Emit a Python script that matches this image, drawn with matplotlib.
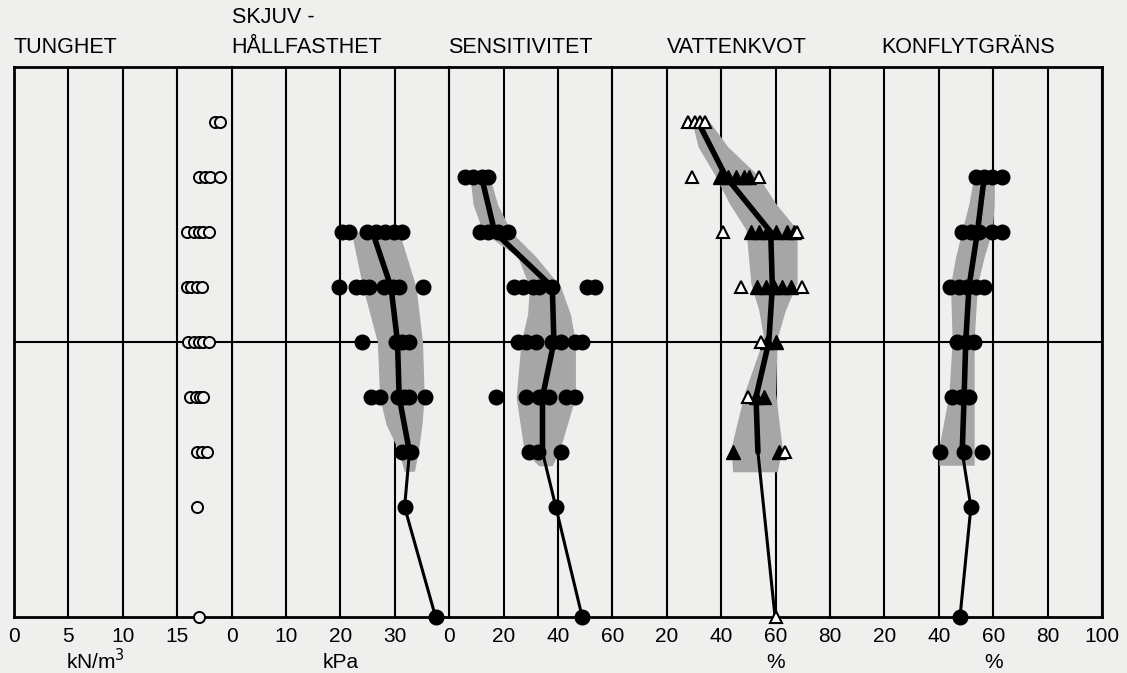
import matplotlib
matplotlib.use("Agg")
import matplotlib.pyplot as plt

plt.rcParams['font.family'] = ['Liberation Sans', 'DejaVu Sans']

# djup (m) och matvarden per panel
tung_levels = [1, 2, 3, 4, 5, 6, 7, 8, 10]
tung_pts = [[18.5, 18.9], [17.0, 17.6, 18.0, 18.9], [15.9, 16.5, 17.0, 17.4, 17.9],
            [15.9, 16.3, 16.8, 17.3], [16.0, 16.5, 17.0, 17.4, 17.9],
            [16.2, 16.7, 17.1, 17.4], [16.8, 17.3, 17.7], [16.8], [17.0]]

skjuv_levels = [3, 4, 5, 6, 7, 8, 10]
skjuv_pts = [[20.3, 21.5, 24.9, 26.5, 28.2, 29.8, 31.3],
             [19.8, 22.9, 24.1, 25.3, 28.1, 29.6, 30.8, 35.2],
             [24.0, 30.2, 31.4, 32.7], [25.6, 27.2, 30.5, 31.7, 32.7, 35.6],
             [31.4, 33.0], [31.8], [37.5]]
skjuv_mean = [25.9, 29.3, 30.5, 30.8, 32.7, 31.8, 37.5]
skjuv_band_z = [3.0, 4.0, 5.0, 6.0, 6.5, 7.0, 7.35]
skjuv_band_lo = [22.0, 24.1, 26.8, 27.2, 28.4, 30.8, 31.7]
skjuv_band_hi = [30.8, 33.9, 35.1, 35.4, 35.0, 34.3, 33.6]

sens_levels = [2, 3, 4, 5, 6, 7, 8, 10]
sens_pts = [[5.8, 8.8, 11.9, 14.3], [11.3, 14.3, 17.9, 21.6],
            [24.0, 27.0, 30.7, 33.1, 37.9, 50.7, 53.7],
            [25.2, 28.2, 31.9, 37.9, 41.0, 46.4, 48.8],
            [17.1, 28.2, 33.1, 36.7, 42.8, 46.4], [29.5, 32.5, 41.0], [39.2], [48.9]]
sens_mean = [11.9, 16.7, 37.9, 38.5, 34.3, 34.3, 39.2, 48.9]
sens_band_z = [2.0, 2.5, 3.0, 3.45, 4.0, 4.5, 5.0, 6.0, 7.0, 7.25]
sens_band_lo = [7.6, 8.8, 12.4, 25.2, 29.5, 28.8, 26.4, 24.6, 27.6, 33.0]
sens_band_hi = [14.9, 17.8, 22.8, 31.9, 41.0, 44.6, 46.4, 46.4, 40.4, 37.8]

vatten_levels = [1, 2, 3, 4, 5, 6, 7, 10]
vatten_open = [[27.9, 30.3, 32.1, 33.9], [29.3, 53.9], [40.6, 67.9], [47.3, 69.7],
               [54.5], [49.7], [63.6], [60.0]]
vatten_fill = [[], [39.4, 42.4, 45.5, 48.5, 50.3], [50.9, 53.9, 57.0, 60.0, 64.2, 66.7],
               [53.3, 56.4, 59.4, 62.4, 65.5], [57.0, 60.0], [52.7, 55.7], [44.2, 61.2], []]
vatten_mean = [31.5, 41.8, 58.2, 58.8, 57.5, 52.8, 53.5, 59.8]
vatten_band_z = [0.96, 1.45, 1.96, 2.48, 2.96, 3.93, 4.42, 4.93, 5.93, 6.93, 7.36]
vatten_band_lo = [29.1, 31.5, 37.6, 43.0, 49.1, 50.9, 53.8, 55.6, 48.5, 43.6, 44.2]
vatten_band_hi = [35.2, 42.4, 53.3, 60.0, 67.9, 67.9, 63.6, 60.6, 60.0, 62.4, 60.6]

konfl_levels = [2, 3, 4, 5, 6, 7, 8, 10]
konfl_pts = [[53.6, 56.7, 59.7, 63.4], [48.6, 51.7, 54.8, 59.7, 63.4],
             [44.3, 47.4, 50.5, 53.6, 56.7], [46.8, 49.9, 53.0], [44.9, 48.0, 51.1],
             [40.6, 49.3, 56.0], [51.8], [47.8]]
konfl_mean = [56.7, 54.2, 51.1, 49.9, 49.3, 48.6, 51.8, 47.8]
konfl_band_z = [1.96, 2.48, 2.96, 3.45, 3.96, 4.96, 5.96, 6.92, 7.24]
konfl_band_lo = [53.0, 51.1, 48.6, 46.2, 44.3, 44.9, 43.7, 40.0, 40.0]
konfl_band_hi = [60.4, 60.4, 59.7, 56.7, 54.2, 53.0, 53.0, 53.0, 53.0]


def flat(levels, pts):
    xs = []
    zs = []
    for d, row in zip(levels, pts):
        for v in row:
            xs.append(v)
            zs.append(d)
    return xs, zs


def mean_line(ax, levels, vals):
    # tjock linje genom bandet, tunn under 7 m
    up = [i for i, d in enumerate(levels) if d <= 7]
    ax.plot([vals[i] for i in up], [levels[i] for i in up], color='black', lw=4, zorder=3,
            solid_capstyle='round')
    k = up[-1]
    ax.plot(vals[k:], levels[k:], color='black', lw=2.2, zorder=3, clip_on=False)


bg = '#efefed'
band_col = '#a6a6a6'
fig = plt.figure(figsize=(11.27, 6.73), dpi=100, facecolor=bg)
gs = fig.add_gridspec(1, 5, width_ratios=[4, 4, 3, 4, 5], wspace=0,
                      left=14/1127, right=1102/1127, bottom=1-617/673, top=1-67/673)
axs = [fig.add_subplot(gs[0, i]) for i in range(5)]

xlims = [20, 40, 60, 80, 100]
ticks = [[0, 5, 10, 15], [0, 10, 20, 30], [0, 20, 40, 60], [0, 20, 40, 60, 80],
         [0, 20, 40, 60, 80, 100]]
labels = [['0', '5', '10', '15'], ['0', '10', '20', '30'], ['0', '20', '40', '60'],
          ['', '20', '40', '60', '80'], ['', '20', '40', '60', '80', '100']]

for i, ax in enumerate(axs):
    ax.set_facecolor(bg)
    ax.set_xlim(0, xlims[i])
    ax.set_ylim(10, 0)
    ax.set_xticks(ticks[i])
    ax.set_xticklabels(labels[i], fontsize=15)
    ax.set_yticks([])
    ax.tick_params(axis='x', length=0, pad=7)
    ax.grid(axis='x', color='black', lw=1.5)
    ax.axhline(5, color='black', lw=1.5, zorder=1)
    for s in ax.spines.values():
        s.set_linewidth(2)
    if i > 0:
        ax.spines['left'].set_linewidth(1.5)
    if i < 4:
        ax.spines['right'].set_visible(False)

# TUNGHET
x, z = flat(tung_levels, tung_pts)
axs[0].plot(x, z, 'o', ms=8, mfc=bg, mec='black', mew=1.4, zorder=4, clip_on=False)

# SKJUVHALLFASTHET
axs[1].fill_betweenx(skjuv_band_z, skjuv_band_lo, skjuv_band_hi, color=band_col, lw=0, zorder=2)
mean_line(axs[1], skjuv_levels, skjuv_mean)
x, z = flat(skjuv_levels, skjuv_pts)
axs[1].plot(x, z, 'o', ms=10.5, color='black', zorder=4, clip_on=False)

# SENSITIVITET
axs[2].fill_betweenx(sens_band_z, sens_band_lo, sens_band_hi, color=band_col, lw=0, zorder=2)
mean_line(axs[2], sens_levels, sens_mean)
x, z = flat(sens_levels, sens_pts)
axs[2].plot(x, z, 'o', ms=10.5, color='black', zorder=4, clip_on=False)

# VATTENKVOT
axs[3].fill_betweenx(vatten_band_z, vatten_band_lo, vatten_band_hi, color=band_col, lw=0, zorder=2)
mean_line(axs[3], vatten_levels, vatten_mean)
x, z = flat(vatten_levels, vatten_fill)
axs[3].plot(x, z, '^', ms=10, color='black', zorder=4)
x, z = flat(vatten_levels, vatten_open)
axs[3].plot(x, z, '^', ms=9, mfc='white', mec='black', mew=1.5, zorder=5, clip_on=False)

# KONFLYTGRANS
axs[4].fill_betweenx(konfl_band_z, konfl_band_lo, konfl_band_hi, color=band_col, lw=0, zorder=2)
mean_line(axs[4], konfl_levels, konfl_mean)
x, z = flat(konfl_levels, konfl_pts)
axs[4].plot(x, z, 'o', ms=10.5, color='black', zorder=4, clip_on=False)

# rubriker
tf = 15.5
axs[0].text(0, 1.035, 'TUNGHET', transform=axs[0].get_xaxis_transform(), fontsize=tf, va='center')
axs[1].text(0, 1.09, 'SKJUV -', transform=axs[1].get_xaxis_transform(), fontsize=tf, va='center')
axs[1].text(0, 1.035, 'HÅLLFASTHET', transform=axs[1].get_xaxis_transform(), fontsize=tf, va='center')
axs[2].text(-0.5, 1.035, 'SENSITIVITET', transform=axs[2].get_xaxis_transform(), fontsize=tf, va='center')
axs[3].text(20, 1.035, 'VATTENKVOT', transform=axs[3].get_xaxis_transform(), fontsize=tf, va='center')
axs[4].text(19, 1.035, 'KONFLYTGRÄNS', transform=axs[4].get_xaxis_transform(), fontsize=tf, va='center')

# enheter
axs[0].text(7.5, -0.08, 'kN/m$^3$', transform=axs[0].get_xaxis_transform(), fontsize=15, ha='center', va='center')
axs[1].text(20, -0.082, 'kPa', transform=axs[1].get_xaxis_transform(), fontsize=15, ha='center', va='center')
axs[3].text(60, -0.082, '%', transform=axs[3].get_xaxis_transform(), fontsize=15, ha='center', va='center')
axs[4].text(60, -0.082, '%', transform=axs[4].get_xaxis_transform(), fontsize=15, ha='center', va='center')

plt.savefig("out.png", dpi=100, facecolor=bg)
plt.close()
